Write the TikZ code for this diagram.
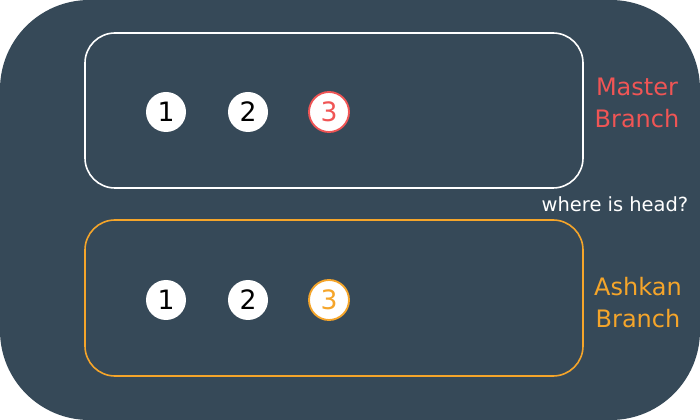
\documentclass[tikz,border=0pt]{standalone}
\usepackage{fontspec}
\setmainfont{DejaVu Sans}
\definecolor{bgc}{HTML}{364958}
\definecolor{redc}{HTML}{F05555}
\definecolor{orac}{HTML}{F5A52A}
\begin{document}
\begin{tikzpicture}[x=0.75pt,y=-0.75pt,
  branchbox/.style={draw, line width=1.2pt, rounded corners=22.5pt},
  commit/.style={circle, fill=white, minimum size=30pt, inner sep=0pt, font=\fontsize{20}{22}\selectfont},
  headcommit/.style={commit, draw=#1, line width=1.4pt, text=#1},
  label/.style={align=center, font=\fontsize{18}{24}\selectfont}]
\useasboundingbox (0,0) rectangle (700,420);
\fill[bgc, rounded corners=67pt] (0,0) rectangle (700,420);
\draw[branchbox, white] (85,33) rectangle (583,188);
\draw[branchbox, orac] (85,220) rectangle (583,376);
\node[commit] (m1) at (166,112) {1};
\node[commit] (m2) at (248,112) {2};
\node[headcommit=redc] (m3) at (329,112) {3};
\node[commit] (a1) at (166,300) {1};
\node[commit] (a2) at (248,300) {2};
\node[headcommit=orac] (a3) at (329,300) {3};
\node[label, text=redc] (ml) at (637,103) {Master\\Branch};
\node[label, text=orac] (al) at (638,303) {Ashkan\\Branch};
\node[font=\fontsize{14.6}{17}\selectfont, text=white] (q) at (615,204) {where is head?};
\end{tikzpicture}
\end{document}
